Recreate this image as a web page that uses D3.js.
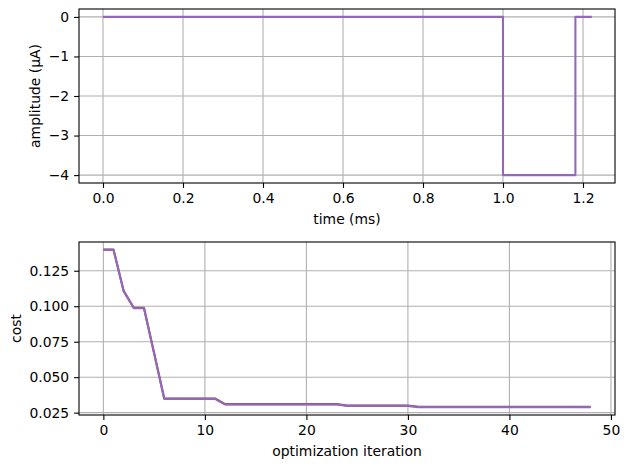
<!DOCTYPE html>
<html><head><meta charset="utf-8">
<script src="https://cdn.jsdelivr.net/npm/d3@7"></script>
<style>body{margin:0;background:#fff}svg{display:block}text{font-family:"DejaVu Sans",sans-serif}</style>
</head><body>
<script>
// Top panel: stimulus waveform
const timeMs = [0, 1.0, 1.0, 1.181, 1.181, 1.222];
const amplitude = [0, 0, -4, -4, 0, 0];
const timeTicks = [0.0, 0.2, 0.4, 0.6, 0.8, 1.0, 1.2];
const ampTicks = [0, -1, -2, -3, -4];

// Bottom panel: cost per optimization iteration (two nearly overlapping series)
const iteration = d3.range(0, 49);
const costA = [0.1397,0.1397,0.1105,0.0986,0.0986,0.0667,0.0347,0.0347,0.0347,0.0347,0.0347,0.0347,
  0.0307,0.0307,0.0307,0.0307,0.0307,0.0307,0.0307,0.0307,0.0307,0.0307,0.0307,0.0307,
  0.0298,0.0298,0.0298,0.0298,0.0298,0.0298,0.0298,
  0.0289,0.0289,0.0289,0.0289,0.0289,0.0289,0.0289,0.0289,0.0289,0.0289,0.0289,0.0289,0.0289,0.0289,0.0289,0.0289,0.0289,0.0289];
const costB = [0.1400,0.1400,0.1108,0.0989,0.0989,0.0670,0.0350,0.0350,0.0350,0.0350,0.0350,0.0350,
  0.0310,0.0310,0.0310,0.0310,0.0310,0.0310,0.0310,0.0310,0.0310,0.0310,0.0310,0.0310,
  0.0301,0.0301,0.0301,0.0301,0.0301,0.0301,0.0301,
  0.0292,0.0292,0.0292,0.0292,0.0292,0.0292,0.0292,0.0292,0.0292,0.0292,0.0292,0.0292,0.0292,0.0292,0.0292,0.0292,0.0292,0.0292];
const iterTicks = [0, 10, 20, 30, 40, 50];
const costTicks = [0.025, 0.050, 0.075, 0.100, 0.125];

const W = 629, H = 469;
const svg = d3.select("body").append("svg").attr("width", W).attr("height", H);
const FS = "13.9px";
const minus = s => s.replace("-", "\u2212");

function panel(box, xDom, yDom, xTicks, yTicks, xFmt, yFmt, xLabel, yLabel, yLabelX, series) {
  const x = d3.scaleLinear().domain(xDom).range([box.l, box.r]);
  const y = d3.scaleLinear().domain(yDom).range([box.b, box.t]);
  const g = svg.append("g");
  // grid
  g.selectAll(null).data(xTicks).join("line")
    .attr("x1", d => x(d)).attr("x2", d => x(d)).attr("y1", box.t).attr("y2", box.b)
    .attr("stroke", "#b0b0b0").attr("stroke-width", 1.1);
  g.selectAll(null).data(yTicks).join("line")
    .attr("y1", d => y(d)).attr("y2", d => y(d)).attr("x1", box.l).attr("x2", box.r)
    .attr("stroke", "#b0b0b0").attr("stroke-width", 1.1);
  // series
  const clip = "clip" + Math.round(box.t);
  svg.append("clipPath").attr("id", clip).append("rect")
    .attr("x", box.l).attr("y", box.t).attr("width", box.r - box.l).attr("height", box.b - box.t);
  series.forEach(s => {
    const line = d3.line().x((d, i) => x(s.x[i])).y(d => y(d));
    g.append("path").datum(s.y).attr("d", line).attr("fill", "none")
      .attr("stroke", s.color).attr("stroke-width", 2.08)
      .attr("stroke-linejoin", "round").attr("stroke-linecap", "butt")
      .attr("clip-path", `url(#${clip})`);
  });
  // axes
  const xa = g.append("g").attr("transform", `translate(0,${box.b})`)
    .call(d3.axisBottom(x).tickValues(xTicks).tickFormat(xFmt).tickSizeOuter(0).tickSize(4.9).tickPadding(4.9));
  const ya = g.append("g").attr("transform", `translate(${box.l},0)`)
    .call(d3.axisLeft(y).tickValues(yTicks).tickFormat(yFmt).tickSizeOuter(0).tickSize(4.9).tickPadding(4.9));
  [xa, ya].forEach(a => {
    a.select(".domain").remove();
    a.selectAll("line").attr("stroke", "#000").attr("stroke-width", 1.1);
    a.selectAll("text").attr("font-size", FS).attr("fill", "#000").attr("font-family", "DejaVu Sans");
  });
  // frame
  g.append("rect").attr("x", box.l).attr("y", box.t).attr("width", box.r - box.l).attr("height", box.b - box.t)
    .attr("fill", "none").attr("stroke", "#000").attr("stroke-width", 1.1);
  // labels
  g.append("text").attr("x", (box.l + box.r) / 2).attr("y", box.b + 41)
    .attr("text-anchor", "middle").attr("font-size", FS).text(xLabel);
  g.append("text").attr("transform", `translate(${yLabelX},${(box.t + box.b) / 2}) rotate(-90)`)
    .attr("text-anchor", "middle").attr("font-size", FS).text(yLabel);
}

panel({l: 79, r: 615, t: 9, b: 183}, [-0.06, 1.28], [-4.2, 0.2], timeTicks, ampTicks,
  d => d3.format(".1f")(d), d => minus(String(d)), "time (ms)", "amplitude (\u00b5A)", 40,
  [{x: timeMs, y: amplitude, color: "#9467bd"}]);

panel({l: 79, r: 615, t: 242, b: 415}, [-2.4, 50.4], [0.02336, 0.14524], iterTicks, costTicks,
  d => String(d), d => d3.format(".3f")(d), "optimization iteration", "cost", 21,
  [{x: iteration, y: costB, color: "#8c564b"}, {x: iteration, y: costA, color: "#9467bd"}]);
</script>
</body></html>
